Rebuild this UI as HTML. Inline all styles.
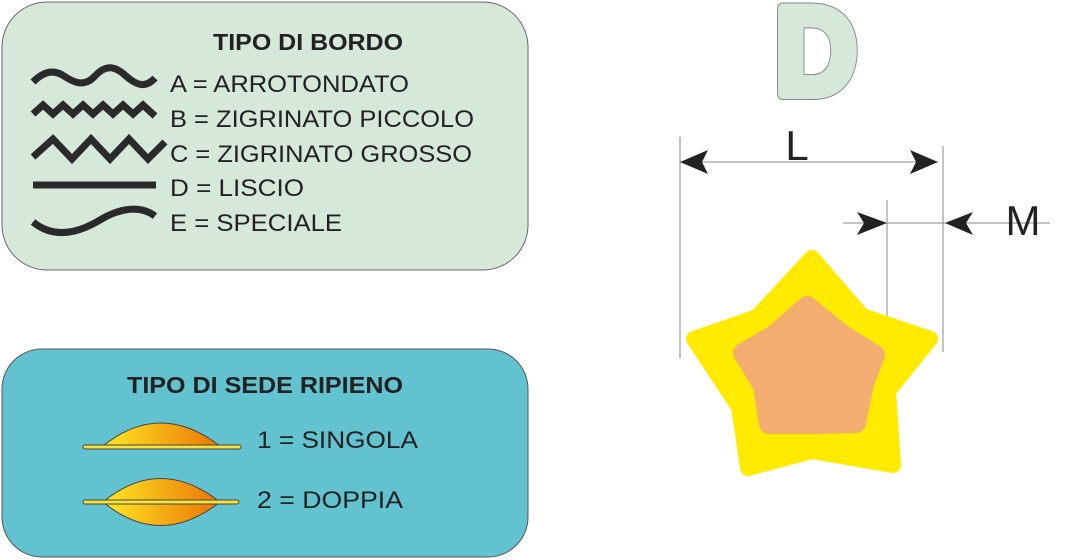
<!DOCTYPE html>
<html><head><meta charset="utf-8"><style>html,body{margin:0;padding:0;background:#fff}svg{display:block}</style></head>
<body>
<svg width="1087" height="560" viewBox="0 0 1087 560" xmlns="http://www.w3.org/2000/svg" font-family="Liberation Sans, sans-serif">
<defs>
<linearGradient id="g" x1="0" x2="1" y1="0" y2="0"><stop offset="0" stop-color="#fde823"/><stop offset="1" stop-color="#ec7406"/></linearGradient>
<linearGradient id="o" x1="0" y1="0" x2="0.6" y2="0.6"><stop offset="0" stop-color="#f5bf55"/><stop offset="0.5" stop-color="#f3ad70"/></linearGradient>
</defs>
<rect x="2" y="2" width="526" height="268" rx="45" fill="#d5e8d9" stroke="#666" stroke-width="1"/>
<text x="213" y="50" font-size="23" font-weight="bold" textLength="190" lengthAdjust="spacingAndGlyphs" fill="#222">TIPO DI BORDO</text>
<g font-size="24" fill="#222">
<text x="170" y="92" textLength="239" lengthAdjust="spacingAndGlyphs">A = ARROTONDATO</text>
<text x="170" y="127" textLength="304" lengthAdjust="spacingAndGlyphs">B = ZIGRINATO PICCOLO</text>
<text x="170" y="162" textLength="302" lengthAdjust="spacingAndGlyphs">C = ZIGRINATO GROSSO</text>
<text x="170" y="196" textLength="134" lengthAdjust="spacingAndGlyphs">D = LISCIO</text>
<text x="170" y="231" textLength="172" lengthAdjust="spacingAndGlyphs">E = SPECIALE</text>
</g>
<g fill="none" stroke="#2a2a2a" stroke-width="7">
<path d="M33 82 C45 70 55 70 64 76 S 84 88 95 76 S 115 66 126 76 S 146 88 155 78"/>
<path d="M33 114 L43 105 L53 114 L63 105 L73 114 L83 105 L93 114 L103 105 L113 114 L123 105 L133 114 L143 105 L155 116"/>
<path d="M33 157 L53 139 L72 159 L91 139 L110 159 L129 139 L148 159 L165 142"/>
<path d="M33 185 H156"/>
<path d="M33 222 C55 240 80 232 100 220 S 140 205 155 216"/>
</g>
<rect x="2" y="349" width="526" height="208" rx="40" fill="#63c2cf" stroke="#555" stroke-width="1"/>
<text x="127" y="393" font-size="23" font-weight="bold" textLength="276" lengthAdjust="spacingAndGlyphs" fill="#222">TIPO DI SEDE RIPIENO</text>
<text x="257" y="448" font-size="24" textLength="161" lengthAdjust="spacingAndGlyphs" fill="#222">1 = SINGOLA</text>
<text x="257" y="508" font-size="24" textLength="146" lengthAdjust="spacingAndGlyphs" fill="#222">2 = DOPPIA</text>
<path d="M103 446 Q160 400 220 446 Z" fill="url(#g)" stroke="#444" stroke-width="1"/>
<rect x="83" y="445" width="158" height="4" rx="2" fill="#f7e23a" stroke="#444" stroke-width="1"/>
<path d="M103 502 Q160 455 220 502 Q160 549 103 502 Z" fill="url(#g)" stroke="#444" stroke-width="1"/>
<rect x="83" y="500" width="156" height="4" rx="2" fill="#f7e23a" stroke="#444" stroke-width="1"/>
<text x="816" y="94" font-size="124" font-weight="bold" text-anchor="middle" textLength="82" lengthAdjust="spacingAndGlyphs" fill="#d5e8d9" stroke="#888" stroke-width="12" stroke-linejoin="round">D</text>
<text x="816" y="94" font-size="124" font-weight="bold" text-anchor="middle" textLength="82" lengthAdjust="spacingAndGlyphs" fill="#d5e8d9" stroke="#d5e8d9" stroke-width="10" stroke-linejoin="round">D</text>
<g stroke="#888" stroke-width="1" fill="none">
<path d="M680 137 V358 M943 146 V352 M680 162 H938 M887 200 V340 M843 223 H1050"/>
</g>
<g fill="#222">
<path d="M680 162 L708 150 L702 162 L708 174 Z"/>
<path d="M938 162 L910 150 L916 162 L910 174 Z"/>
<path d="M887 223 L857 212 L864 223 L857 235 Z"/>
<path d="M945 223 L973 212 L966 223 L973 235 Z"/>
</g>
<text x="797" y="160" font-size="42" fill="#222" text-anchor="middle">L</text>
<text x="1023" y="235" font-size="42" fill="#222" text-anchor="middle">M</text>
<polygon points="812,258 757,317 694,339 739,407 748,468 812,451 893,465 888,391 930,339 862,316" fill="#ffea00" stroke="#ffea00" stroke-width="16" stroke-linejoin="round"/>
<polygon points="807,306 774,335 743,353 763,386 769,424 813,424 856,423 864,383 875,355 843,335" fill="url(#o)" stroke="#f3ad70" stroke-width="20" stroke-linejoin="round"/>
</svg>
</body></html>
